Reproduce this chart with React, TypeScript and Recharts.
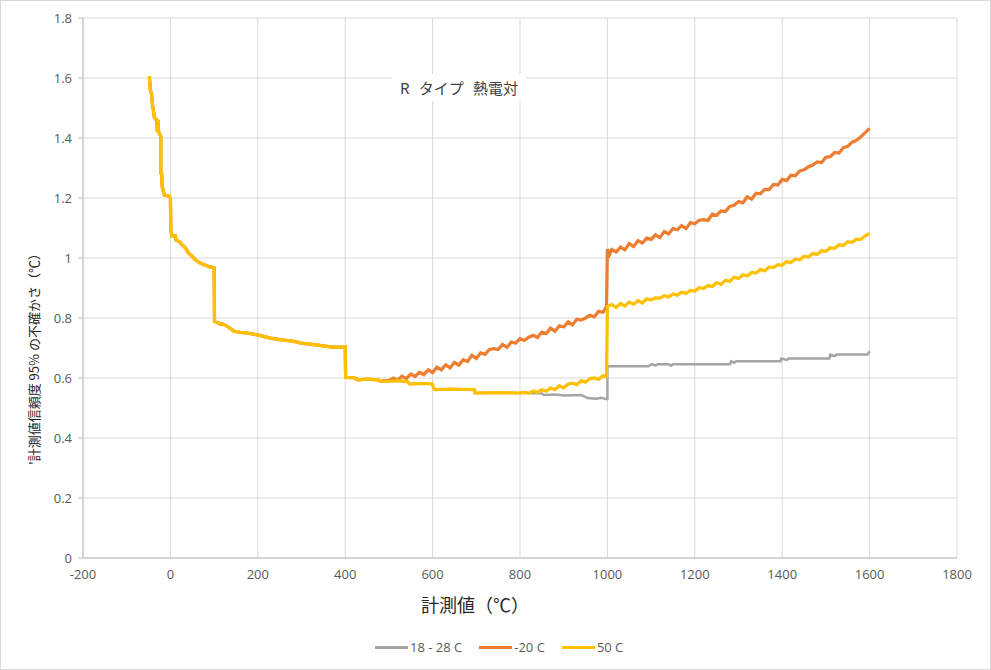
import React from 'react';
import { LineChart, Line, XAxis, YAxis, CartesianGrid } from 'recharts';

type P = [number, number];

const xTicks = [-200, 0, 200, 400, 600, 800, 1000, 1200, 1400, 1600, 1800];
const yTicks = [0, 0.2, 0.4, 0.6, 0.8, 1, 1.2, 1.4, 1.6, 1.8];
const minorTicks = Array.from({ length: 46 }, (_, i) => Math.round(i * 4) / 100).filter(
  (v) => Math.round(v * 100) % 20 !== 0
);

const seriesNames = ['18 - 28 C', '-20 C', '50 C'];
const xLabel = '計測値（℃）';
const yLabel = "'計測値信頼度 95% の不確かさ（℃）";
const title = 'R タイプ 熱電対';

// shared low-temperature part (all three series coincide)
const commonLow: P[] = [
  [-48, 1.605], [-46, 1.56], [-43, 1.544], [-41, 1.51], [-39, 1.494], [-37, 1.47],
  [-33, 1.461], [-31, 1.46], [-30, 1.42], [-28, 1.46], [-27, 1.42], [-22, 1.405],
  [-22, 1.283], [-20, 1.28], [-19, 1.24], [-14, 1.21], [-3, 1.206], [0, 1.2],
  [1, 1.09], [4, 1.074], [11, 1.074], [13, 1.06], [22, 1.053], [26, 1.044],
  [30, 1.04], [36, 1.03], [41, 1.017], [50, 1.005], [57, 0.994], [68, 0.983],
  [80, 0.976], [87, 0.972], [100, 0.967], [101, 0.789], [108, 0.785], [114, 0.78],
  [120, 0.78], [130, 0.772], [138, 0.765], [145, 0.756], [160, 0.752], [176, 0.75],
  [190, 0.746], [199, 0.744], [215, 0.738], [229, 0.733], [250, 0.728], [283, 0.722],
  [300, 0.716], [329, 0.711], [350, 0.707], [370, 0.703], [400, 0.703], [401, 0.602],
  [420, 0.601], [429, 0.594], [450, 0.596], [475, 0.594], [480, 0.59],
];

// shared by 50 C and 18-28 C
const midPart: P[] = [
  [500, 0.589], [520, 0.591], [543, 0.588], [548, 0.58], [575, 0.582], [599, 0.58],
  [604, 0.561], [640, 0.563], [696, 0.561], [697, 0.55], [750, 0.551], [800, 0.55],
];

const orangeRise: P[] = [
  [500, 0.592], [510, 0.6], [520, 0.593], [530, 0.606], [540, 0.598], [550, 0.613],
  [560, 0.605], [570, 0.619], [580, 0.611], [590, 0.627], [600, 0.618], [610, 0.636],
  [620, 0.627], [630, 0.644], [640, 0.634], [650, 0.652], [660, 0.643], [670, 0.661],
  [680, 0.655], [690, 0.676], [700, 0.665], [710, 0.684], [720, 0.679], [730, 0.695],
  [740, 0.698], [750, 0.695], [760, 0.712], [770, 0.702], [780, 0.72], [790, 0.716],
  [800, 0.731], [810, 0.725], [820, 0.736], [830, 0.742], [840, 0.735], [850, 0.753],
  [860, 0.748], [870, 0.766], [880, 0.756], [890, 0.774], [900, 0.77], [910, 0.787],
  [920, 0.777], [930, 0.796], [940, 0.793], [950, 0.8], [960, 0.809], [970, 0.804],
  [980, 0.822], [990, 0.819], [998, 0.838],
];

const orangeHigh: P[] = [
  [1000, 1.03], [1005, 1.012], [1010, 1.028], [1020, 1.02], [1030, 1.036], [1040, 1.027],
  [1050, 1.048], [1060, 1.038], [1070, 1.058], [1080, 1.05], [1090, 1.066], [1100, 1.062],
  [1110, 1.077], [1120, 1.068], [1130, 1.088], [1140, 1.08], [1150, 1.098], [1160, 1.094],
  [1170, 1.108], [1180, 1.098], [1190, 1.118], [1200, 1.114], [1210, 1.126], [1220, 1.128],
  [1230, 1.125], [1240, 1.146], [1250, 1.142], [1260, 1.157], [1270, 1.155], [1280, 1.172],
  [1290, 1.176], [1300, 1.188], [1310, 1.184], [1320, 1.204], [1330, 1.196], [1340, 1.216],
  [1350, 1.214], [1360, 1.229], [1370, 1.228], [1380, 1.245], [1390, 1.243], [1400, 1.262],
  [1410, 1.258], [1420, 1.276], [1430, 1.274], [1440, 1.29], [1450, 1.294], [1460, 1.304],
  [1470, 1.31], [1480, 1.32], [1490, 1.318], [1500, 1.336], [1510, 1.338], [1520, 1.352],
  [1530, 1.35], [1540, 1.368], [1550, 1.372], [1560, 1.386], [1570, 1.392], [1580, 1.404],
  [1590, 1.418], [1600, 1.432],
];

const yellowRise: P[] = [
  [810, 0.553], [820, 0.549], [830, 0.557], [840, 0.552], [850, 0.561], [860, 0.556],
  [870, 0.567], [880, 0.561], [890, 0.574], [900, 0.567], [910, 0.58], [920, 0.583],
  [930, 0.578], [940, 0.591], [950, 0.586], [960, 0.598], [970, 0.6], [980, 0.595],
  [990, 0.608], [998, 0.604],
];

const yellowHigh: P[] = [
  [1000, 0.838], [1010, 0.845], [1020, 0.835], [1030, 0.848], [1040, 0.84], [1050, 0.853],
  [1060, 0.846], [1070, 0.858], [1080, 0.85], [1090, 0.864], [1100, 0.86], [1110, 0.867],
  [1120, 0.866], [1130, 0.874], [1140, 0.87], [1150, 0.88], [1160, 0.876], [1170, 0.886],
  [1180, 0.882], [1190, 0.892], [1200, 0.89], [1210, 0.901], [1220, 0.898], [1230, 0.908],
  [1240, 0.905], [1250, 0.918], [1260, 0.912], [1270, 0.926], [1280, 0.922], [1290, 0.936],
  [1300, 0.932], [1310, 0.944], [1320, 0.94], [1330, 0.952], [1340, 0.95], [1350, 0.962],
  [1360, 0.957], [1370, 0.97], [1380, 0.968], [1390, 0.978], [1400, 0.976], [1410, 0.988],
  [1420, 0.985], [1430, 0.996], [1440, 0.994], [1450, 1.006], [1460, 1.003], [1470, 1.015],
  [1480, 1.012], [1490, 1.024], [1500, 1.022], [1510, 1.034], [1520, 1.032], [1530, 1.044],
  [1540, 1.042], [1550, 1.054], [1560, 1.052], [1570, 1.063], [1580, 1.062], [1590, 1.074],
  [1600, 1.082],
];

const grayTail: P[] = [
  [810, 0.551], [830, 0.549], [850, 0.548], [855, 0.543], [880, 0.545], [900, 0.542],
  [940, 0.543], [955, 0.533], [975, 0.531], [985, 0.534], [998, 0.53], [1000, 0.53],
  [1000, 0.639], [1050, 0.639], [1094, 0.639], [1102, 0.646], [1110, 0.641], [1115, 0.646],
  [1140, 0.646], [1145, 0.641], [1150, 0.646], [1200, 0.646], [1281, 0.646], [1283, 0.656],
  [1290, 0.651], [1295, 0.656], [1396, 0.656], [1398, 0.665], [1410, 0.66], [1415, 0.665],
  [1508, 0.665], [1510, 0.678], [1520, 0.673], [1525, 0.678], [1595, 0.678], [1600, 0.689],
];

const toPts = (arr: P[]) => arr.map(([x, y]) => ({ x, y }));

const graySeries = toPts([...commonLow, ...midPart, ...grayTail]);
const orangeSeries = toPts([...commonLow, ...orangeRise, ...orangeHigh]);
const yellowSeries = toPts([...commonLow, ...midPart, ...yellowRise, ...yellowHigh]);

const colors = ['#A5A5A5', '#ED7D31', '#FFC000'];

const tickStyle = { fill: '#595959', fontSize: 13, fontFamily: 'Open Sans, Noto Sans, sans-serif' };

export default function App() {
  return (
    <div
      style={{
        position: 'absolute',
        left: 0,
        top: 0,
        width: 991,
        height: 670,
        background: '#fff',
        fontFamily: '"Noto Sans CJK JP", "Noto Sans", sans-serif',
      }}
    >
      <LineChart
        width={991}
        height={670}
        margin={{ top: 18, right: 34, left: 23, bottom: 82 }}
      >
        <CartesianGrid stroke="#d9d9d9" strokeWidth={1} />
        <XAxis
          dataKey="x"
          type="number"
          domain={[-200, 1800]}
          ticks={xTicks}
          allowDataOverflow
          height={30}
          tickSize={0}
          tickMargin={12}
          tickLine={false}
          axisLine={{ stroke: '#bfbfbf' }}
          tick={tickStyle}
        />
        <YAxis
          type="number"
          domain={[0, 1.8]}
          ticks={yTicks}
          allowDataOverflow
          width={60}
          tickSize={5}
          tickMargin={6}
          tickLine={{ stroke: '#bfbfbf' }}
          axisLine={{ stroke: '#bfbfbf' }}
          tick={tickStyle}
          tickFormatter={(v: number) => String(v)}
        />
        <YAxis
          yAxisId="minor"
          type="number"
          domain={[0, 1.8]}
          ticks={minorTicks}
          mirror
          width={0}
          tickSize={3}
          tickLine={{ stroke: '#bfbfbf' }}
          axisLine={false}
          tickFormatter={() => ''}
          interval={0}
        />
        <Line
          data={graySeries}
          dataKey="y"
          name={seriesNames[0]}
          stroke={colors[0]}
          strokeWidth={2.5}
          dot={false}
          type="linear"
          isAnimationActive={false}
        />
        <Line
          data={orangeSeries}
          dataKey="y"
          name={seriesNames[1]}
          stroke={colors[1]}
          strokeWidth={3.25}
          dot={false}
          type="linear"
          isAnimationActive={false}
        />
        <Line
          data={yellowSeries}
          dataKey="y"
          name={seriesNames[2]}
          stroke={colors[2]}
          strokeWidth={3.25}
          dot={false}
          type="linear"
          isAnimationActive={false}
        />
      </LineChart>

      {/* title */}
      <div
        style={{
          position: 'absolute',
          left: 392,
          top: 74,
          width: 134,
          height: 27,
          background: '#fff',
          display: 'flex',
          alignItems: 'center',
          justifyContent: 'center',
          fontSize: 15,
          color: '#404040',
          wordSpacing: 6,
          whiteSpace: 'nowrap',
        }}
      >
        {title}
      </div>

      {/* x label */}
      <div
        style={{
          position: 'absolute',
          left: 475,
          top: 604,
          transform: 'translate(-50%, -50%)',
          fontSize: 18,
          color: '#262626',
          whiteSpace: 'nowrap',
        }}
      >
        {xLabel}
      </div>

      {/* y label */}
      <div
        style={{
          position: 'absolute',
          left: 33,
          top: 356,
          transform: 'translate(-50%, -50%) rotate(-90deg)',
          fontSize: 13,
          color: '#262626',
          whiteSpace: 'nowrap',
        }}
      >
        {yLabel}
      </div>

      {/* legend */}
      <div
        style={{
          position: 'absolute',
          left: 375,
          top: 647,
          transform: 'translateY(-50%)',
          display: 'flex',
          alignItems: 'center',
          fontSize: 13,
          color: '#595959',
          fontFamily: 'Open Sans, Noto Sans, sans-serif',
          whiteSpace: 'nowrap',
        }}
      >
        {seriesNames.map((n, i) => (
          <div key={n} style={{ display: 'flex', alignItems: 'center', marginRight: 17 }}>
            <div style={{ width: 33, height: 3, background: colors[i], marginRight: 2 }} />
            <span>{n}</span>
          </div>
        ))}
      </div>

      {/* outer border */}
      <div
        style={{
          position: 'absolute',
          left: 0,
          top: 0,
          width: 991,
          height: 670,
          boxSizing: 'border-box',
          border: '1px solid #d9d9d9',
          pointerEvents: 'none',
        }}
      />
    </div>
  );
}
